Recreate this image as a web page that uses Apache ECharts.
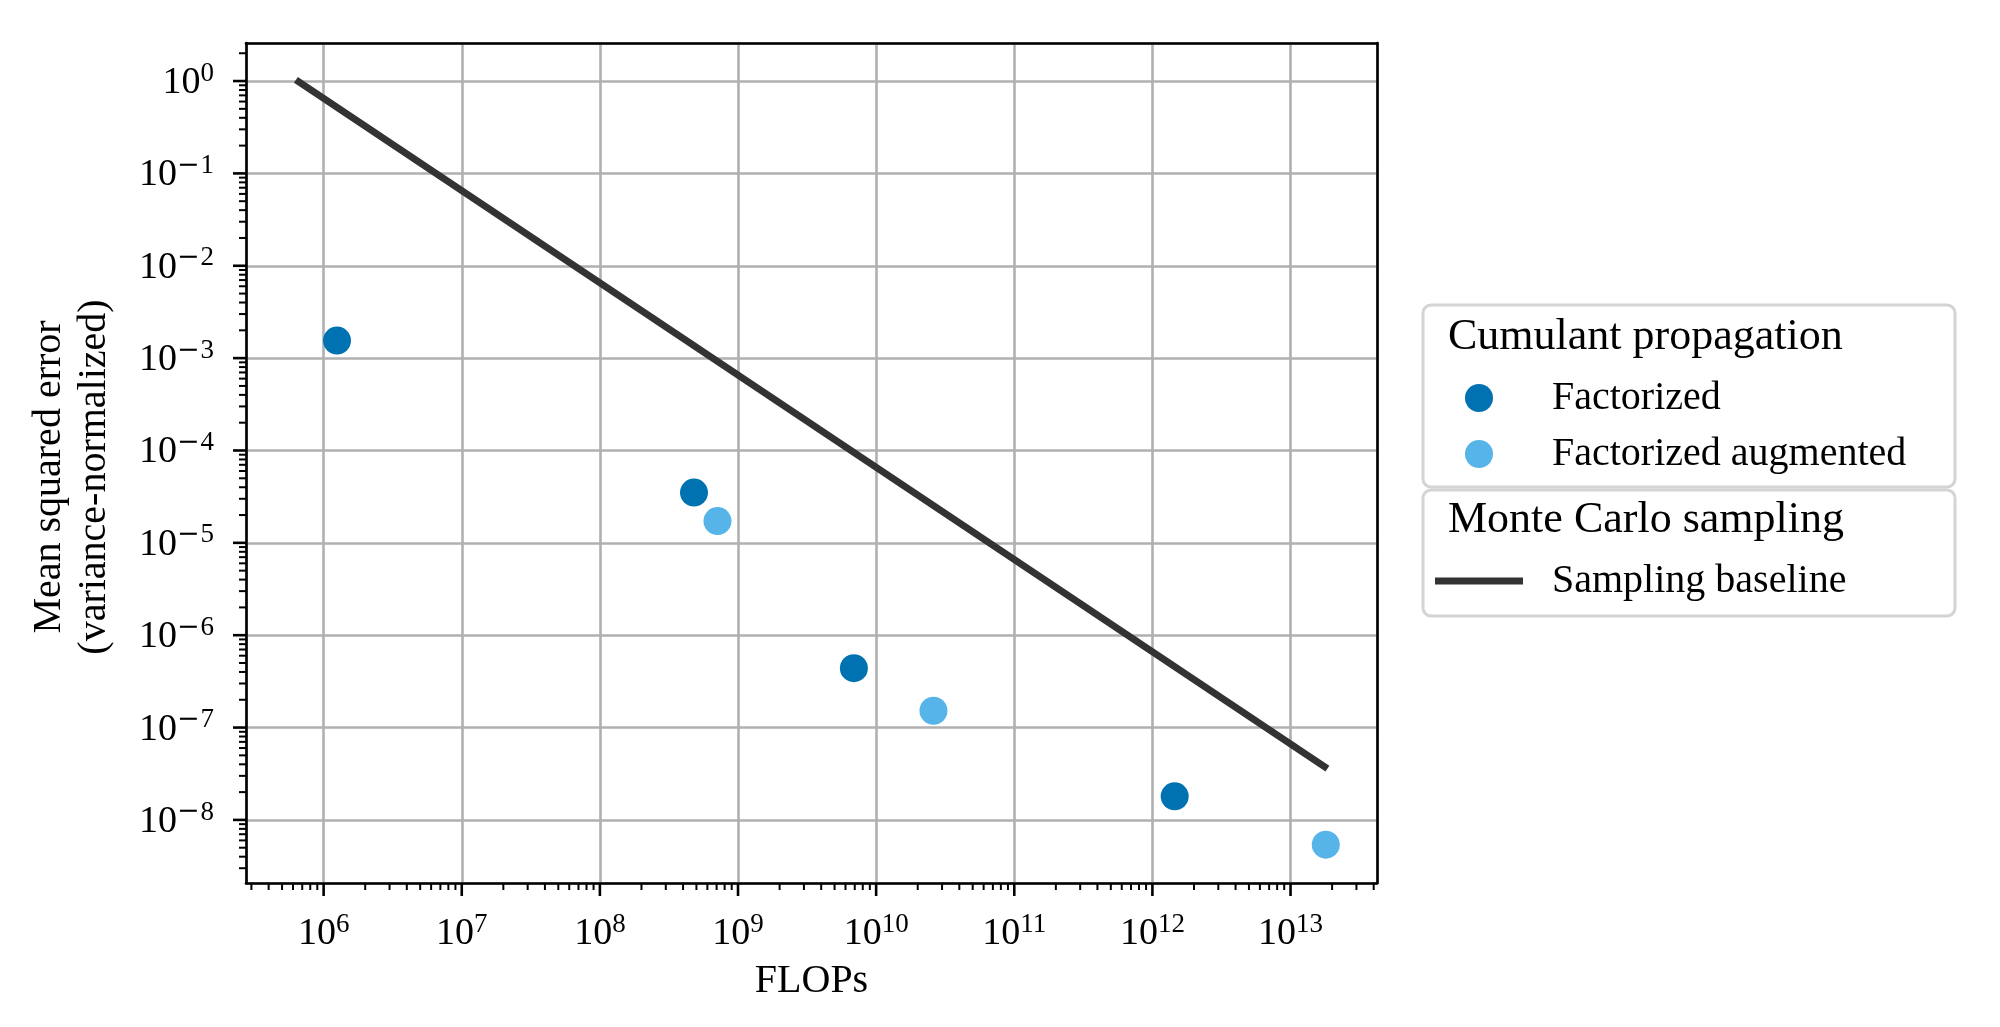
<!DOCTYPE html>
<html>
<head>
<meta charset="utf-8">
<script src="https://cdn.jsdelivr.net/npm/echarts@6/dist/echarts.min.js"></script>
<style>
html,body{margin:0;padding:0;background:#fff;}
#chart{width:2000px;height:1027px;}
</style>
</head>
<body>
<div id="chart"></div>
<script>
// ---- data ----
const factorizedFlops = [1.25e6, 4.8e8, 6.9e9, 1.45e12];
const factorizedMse   = [1.55e-3, 3.5e-5, 4.4e-7, 1.8e-8];
const augmentedFlops  = [7.1e8, 2.6e10, 1.8e13];
const augmentedMse    = [1.72e-5, 1.52e-7, 5.4e-9];
const baselineFlops   = [6.3e5, 1.85e13];
const baselineMse     = [1.03, 3.6e-8];
const seriesNames = ['Factorized', 'Factorized augmented', 'Sampling baseline'];
const legendTitles = ['Cumulant propagation', 'Monte Carlo sampling'];
const xAxisName = 'FLOPs';
const yAxisName = 'Mean squared error\n(variance-normalized)';

// axis extents (log10)
const X_MIN = Math.pow(10, 5.438), X_MAX = Math.pow(10, 13.626);
const Y_MIN = Math.pow(10, -8.683), Y_MAX = Math.pow(10, 0.412);

const F = '"Liberation Serif", "Times New Roman", serif';
const FM = '"DejaVu Serif", serif';

// tick positions (decades and 2..9 sub-decades) within the axis ranges
function tickItems(lo, hi, isX) {
  const out = [];
  const k0 = Math.floor(Math.log10(lo)) - 1, k1 = Math.ceil(Math.log10(hi)) + 1;
  for (let k = k0; k <= k1; k++) {
    for (let m = 1; m <= 9; m++) {
      const v = m * Math.pow(10, k);
      if (v < lo * 1.0001 || v > hi / 1.0001) continue;
      const kind = (isX ? 0 : 2) + (m === 1 ? 0 : 1);
      out.push(isX ? [v, Y_MIN, kind] : [X_MIN, v, kind]);
    }
  }
  return out;
}
const tickData = tickItems(X_MIN, X_MAX, true).concat(tickItems(Y_MIN, Y_MAX, false));

function pair(xs, ys) { return xs.map((x, i) => [x, ys[i]]); }

function expLabel(v) {
  const e = Math.log10(v);
  const r = Math.round(e);
  if (Math.abs(e - r) > 1e-6) return '';
  return r < 0 ? '{b|10}{m|\u2212}{s|' + (-r) + '}' : '{b|10}{s|' + r + '}';
}
const richLab = {
  b: { fontSize: 38, fontFamily: F, color: '#000', lineHeight: 38 },
  m: { fontSize: 27, fontFamily: FM, color: '#000', lineHeight: 27, padding: [0, 1, 19, 0] },
  s: { fontSize: 27, fontFamily: F, color: '#000', lineHeight: 27, padding: [0, 0, 19, 0] }
};

const chart = echarts.init(document.getElementById('chart'), null, { renderer: 'canvas' });

const frameAxis = {
  type: 'log', logBase: 10, silent: true, z: 5,
  axisLine: { show: true, lineStyle: { color: '#000', width: 2.6 } },
  axisTick: { show: false }, axisLabel: { show: false }, splitLine: { show: false }
};

const option = {
  backgroundColor: '#fff',
  animation: false,
  grid: { left: 246, top: 43, right: 623, bottom: 144, containLabel: false, outerBoundsMode: 'none' },
  title: [
    { text: legendTitles[0], left: 1448, top: 315, padding: 0,
      textStyle: { fontFamily: F, fontSize: 44, fontWeight: 'normal', color: '#000', lineHeight: 44 } },
    { text: legendTitles[1], left: 1448, top: 498, padding: 0,
      textStyle: { fontFamily: F, fontSize: 44, fontWeight: 'normal', color: '#000', lineHeight: 44 } }
  ],
  graphic: [
    { type: 'rect', z: 0, silent: true, shape: { x: 1423, y: 305, width: 532, height: 182, r: 8 },
      style: { fill: '#fff', stroke: '#d4d4d4', lineWidth: 3 } },
    { type: 'rect', z: 0, silent: true, shape: { x: 1423, y: 490, width: 532, height: 126, r: 8 },
      style: { fill: '#fff', stroke: '#d4d4d4', lineWidth: 3 } }
  ],
  legend: [
    { data: [{ name: seriesNames[0], icon: 'circle' }, { name: seriesNames[1], icon: 'circle' }],
      orient: 'vertical', left: 1465, top: 378, padding: 0,
      itemWidth: 88, itemHeight: 28, itemGap: 16, selectedMode: false,
      textStyle: { fontFamily: F, fontSize: 40, color: '#000', padding: [0, 0, 0, 24] } },
    { data: [{ name: seriesNames[2], icon: 'rect', itemStyle: { color: '#333333' } }],
      orient: 'vertical', left: 1435, top: 561, padding: 0,
      itemWidth: 88, itemHeight: 7, itemGap: 16, selectedMode: false,
      textStyle: { fontFamily: F, fontSize: 40, color: '#000', padding: [0, 0, 0, 24] } }
  ],
  xAxis: [
    {
      type: 'log', logBase: 10, min: X_MIN, max: X_MAX, splitNumber: 10,
      name: xAxisName, nameLocation: 'middle', nameGap: 77,
      nameTextStyle: { fontFamily: F, fontSize: 40, color: '#000' },
      axisLine: { show: false }, axisTick: { show: false },
      axisLabel: { formatter: expLabel, margin: 32, rich: richLab, showMinLabel: true, showMaxLabel: true },
      splitLine: { show: true, lineStyle: { color: '#b0b0b0', width: 2.6 } }
    },
    Object.assign({ position: 'bottom', min: X_MIN, max: X_MAX }, frameAxis),
    Object.assign({ position: 'top', min: X_MIN, max: X_MAX }, frameAxis)
  ],
  yAxis: [
    {
      type: 'log', logBase: 10, min: Y_MIN, max: Y_MAX, splitNumber: 10,
      name: yAxisName, nameLocation: 'middle', nameGap: 129,
      nameTextStyle: { fontFamily: F, fontSize: 40, color: '#000', lineHeight: 45, padding: [0, 28, 0, 0] },
      axisLine: { show: false }, axisTick: { show: false },
      axisLabel: { formatter: expLabel, margin: 32, rich: richLab, padding: [4, 0, 0, 0] },
      splitLine: { show: true, lineStyle: { color: '#b0b0b0', width: 2.6 } }
    },
    Object.assign({ position: 'left', min: Y_MIN, max: Y_MAX }, frameAxis),
    Object.assign({ position: 'right', min: Y_MIN, max: Y_MAX }, frameAxis)
  ],
  series: [
    {
      name: seriesNames[2], type: 'line', data: pair(baselineFlops, baselineMse),
      symbol: 'none', showSymbol: false, z: 3,
      lineStyle: { color: '#333333', width: 7, cap: 'butt' }, itemStyle: { color: '#333333' }
    },
    {
      name: seriesNames[0], type: 'scatter', data: pair(factorizedFlops, factorizedMse),
      symbol: 'circle', symbolSize: 28, z: 4, itemStyle: { color: '#0072B2', opacity: 1 }
    },
    {
      name: seriesNames[1], type: 'scatter', data: pair(augmentedFlops, augmentedMse),
      symbol: 'circle', symbolSize: 28, z: 4, itemStyle: { color: '#56B4E9', opacity: 1 }
    },
    {
      name: 'ticks', type: 'custom', data: tickData, silent: true, clip: false, z: 6,
      renderItem: function (params, api) {
        const kind = api.value(2);
        const p = api.coord([api.value(0), api.value(1)]);
        const major = (kind % 2) === 0;
        const len = major ? 13 : 7;
        const w = major ? 2.6 : 2;
        if (kind < 2) {
          return { type: 'line', shape: { x1: p[0], y1: p[1], x2: p[0], y2: p[1] + len },
                   style: { stroke: '#000', lineWidth: w } };
        }
        return { type: 'line', shape: { x1: p[0] - len, y1: p[1], x2: p[0], y2: p[1] },
                 style: { stroke: '#000', lineWidth: w } };
      }
    }
  ]
};
chart.setOption(option);
</script>
</body>
</html>
